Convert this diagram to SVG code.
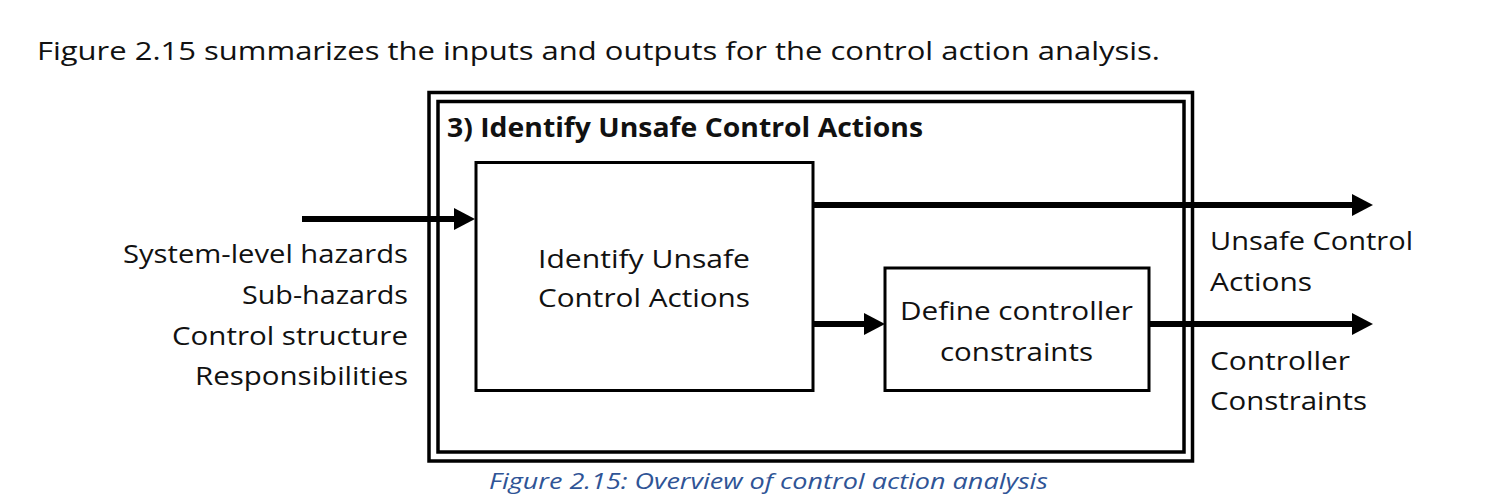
<svg xmlns="http://www.w3.org/2000/svg" width="1497" height="504" viewBox="0 0 1497 504">
<style>
text { font-family: "Open Sans", "Noto Sans", "Liberation Sans", sans-serif; fill: #111; font-size: 25px; }
.title { font-weight: bold; font-size: 26px; }
.cap { font-style: italic; fill: #2F5496; font-size: 22.5px; }
.box { fill: #fff; stroke: #000; stroke-width: 3; }
.frame { fill: none; stroke: #000; stroke-width: 3.5; }
.conn { stroke: #000; stroke-width: 6; fill: none; marker-end: url(#ah); }
</style>
<defs>
<marker id="ah" markerUnits="userSpaceOnUse" markerWidth="22" markerHeight="22" refX="0" refY="11" orient="auto" overflow="visible">
<path d="M0,0 L21,11 L0,22 z" fill="#000"/>
</marker>
</defs>
<rect width="1497" height="504" fill="#fff"/>
<text x="37" y="60" textLength="1123" lengthAdjust="spacingAndGlyphs">Figure 2.15 summarizes the inputs and outputs for the control action analysis.</text>
<g id="frame">
<rect class="frame" x="429" y="92.5" width="763.5" height="368.5"/>
<rect class="frame" x="438" y="101.5" width="746" height="350.5"/>
<text class="title" x="447" y="137" textLength="476" lengthAdjust="spacingAndGlyphs">3) Identify Unsafe Control Actions</text>
</g>
<g id="identify">
<rect class="box" x="476" y="162.5" width="337" height="228"/>
<text x="538" y="268" textLength="212" lengthAdjust="spacingAndGlyphs">Identify Unsafe</text>
<text x="538" y="307" textLength="212" lengthAdjust="spacingAndGlyphs">Control Actions</text>
</g>
<g id="define">
<rect class="box" x="885" y="268" width="264" height="122.5"/>
<text x="900" y="320" textLength="233" lengthAdjust="spacingAndGlyphs">Define controller</text>
<text x="940" y="361" textLength="153" lengthAdjust="spacingAndGlyphs">constraints</text>
</g>
<g id="inputs">
<text x="408" y="263" text-anchor="end" textLength="285" lengthAdjust="spacingAndGlyphs">System-level hazards</text>
<text x="408" y="304" text-anchor="end" textLength="166" lengthAdjust="spacingAndGlyphs">Sub-hazards</text>
<text x="408" y="345" text-anchor="end" textLength="236" lengthAdjust="spacingAndGlyphs">Control structure</text>
<text x="408" y="385" text-anchor="end" textLength="213" lengthAdjust="spacingAndGlyphs">Responsibilities</text>
</g>
<g id="outputs">
<text x="1210" y="250" textLength="203" lengthAdjust="spacingAndGlyphs">Unsafe Control</text>
<text x="1210" y="291" textLength="102" lengthAdjust="spacingAndGlyphs">Actions</text>
<text x="1210" y="370" textLength="140" lengthAdjust="spacingAndGlyphs">Controller</text>
<text x="1210" y="410" textLength="157" lengthAdjust="spacingAndGlyphs">Constraints</text>
</g>
<g id="connectors">
<line class="conn" x1="302" y1="219" x2="454" y2="219"/>
<line class="conn" x1="813" y1="205" x2="1352" y2="205"/>
<line class="conn" x1="813" y1="324" x2="864" y2="324"/>
<line class="conn" x1="1149" y1="324" x2="1352" y2="324"/>
</g>
<text class="cap" x="489" y="489" textLength="559" lengthAdjust="spacingAndGlyphs">Figure 2.15: Overview of control action analysis</text>
</svg>
